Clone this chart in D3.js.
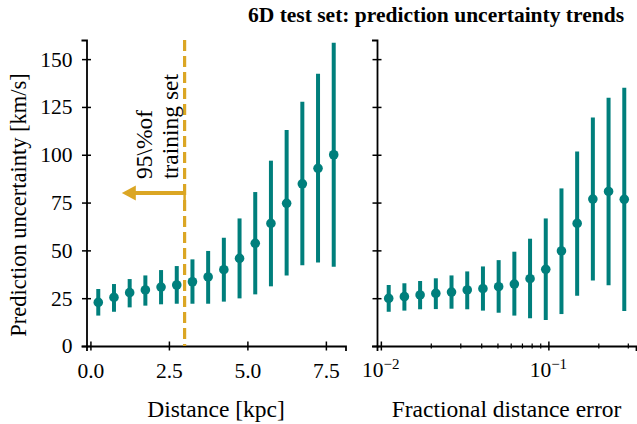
<!DOCTYPE html>
<html>
<head>
<meta charset="utf-8">
<script src="https://cdn.jsdelivr.net/npm/d3@7"></script>
<style>
  body { margin: 0; background: #fff; }
  svg text { font-family: "Liberation Serif", "Times New Roman", serif; fill: #000; }
</style>
</head>
<body>
<div id="chart"></div>
<script>
// Left panel: uncertainty vs distance (bin centers in kpc)
const distKpc = [0.25, 0.75, 1.25, 1.75, 2.25, 2.75, 3.25, 3.75, 4.25, 4.75, 5.25, 5.75, 6.25, 6.75, 7.25, 7.75];
const distMedian = [22.8, 25.4, 27.9, 29.3, 30.8, 31.9, 33.6, 36.1, 39.9, 45.8, 53.7, 64.1, 74.6, 84.8, 92.9, 100.0];
const distLow = [15.9, 17.9, 20.2, 21.1, 21.8, 22.1, 22.1, 22.1, 23.2, 24.9, 27.0, 31.2, 36.8, 42.2, 43.7, 41.5];
const distHigh = [29.8, 32.4, 35.0, 36.9, 39.7, 41.8, 45.3, 49.7, 56.6, 66.7, 80.5, 96.9, 112.9, 127.7, 142.3, 158.5];

// Right panel: uncertainty vs fractional distance error (log bins)
const fracErr = [0.01114, 0.01382, 0.01715, 0.02129, 0.02641, 0.03278, 0.04068, 0.05048, 0.06264, 0.07773, 0.09646, 0.1197, 0.1485, 0.1843, 0.2287, 0.2838];
const fracMedian = [24.9, 25.8, 26.7, 27.5, 28.2, 29.3, 30.0, 31.0, 32.4, 35.2, 40.1, 49.7, 64.1, 76.8, 80.8, 76.7];
const fracLow = [17.9, 18.5, 19.2, 19.3, 19.5, 19.2, 18.5, 17.4, 15.9, 14.5, 13.6, 16.7, 26.3, 34.3, 31.7, 18.3];
const fracHigh = [31.9, 32.8, 34.0, 35.4, 36.9, 39.0, 41.6, 44.9, 49.3, 56.1, 66.7, 82.4, 101.7, 119.5, 129.8, 135.0];

const yTicks = [0, 25, 50, 75, 100, 125, 150];
const distTicks = [0, 2.5, 5, 7.5];
const fracMajorTicks = [0.01, 0.1];
const fracMinorTicks = [0.02, 0.03, 0.04, 0.05, 0.06, 0.07, 0.08, 0.09, 0.2, 0.3];

// 95% of training set lies below this distance; arrow drawn at this height
const trainingCut = 3.0;
const arrowEnd = 1.0;
const arrowLevel = 80;

const teal = "#007f7c";
const gold = "#dba624";

const W = 637, H = 424;
const plotTop = 40, plotBottom = 346;

const svg = d3.select("#chart").append("svg")
  .attr("width", W)
  .attr("height", H);

const y = d3.scaleLinear().domain([0, 160]).range([plotBottom, plotTop]);
const xDist = d3.scaleLinear().domain([-0.125, 8.125]).range([86.5, 345.5]);
const xFrac = d3.scaleLog().domain([Math.pow(10, -2.023), Math.pow(10, -0.477)]).range([377, 636]);

// Title
svg.append("text")
  .attr("x", 436)
  .attr("y", 22)
  .attr("text-anchor", "middle")
  .style("font-size", "21.5px")
  .style("font-weight", "bold")
  .text("6D test set: prediction uncertainty trends");

// ticks that cross the spine (matplotlib "inout")
function inout(g, horizontal, len) {
  g.selectAll(".tick line")
    .attr("stroke", "#000")
    .attr("stroke-width", 1.5)
    .attr(horizontal ? "y1" : "x1", -len)
    .attr(horizontal ? "y2" : "x2", len);
}

function drawPanel(x, xs, med, lo, hi, showYLabels) {
  const p = svg.append("g");

  // y axis
  const ya = p.append("g")
    .attr("transform", "translate(" + x.range()[0] + ",0)")
    .call(d3.axisLeft(y).tickValues(yTicks).tickSize(5).tickPadding(9)
      .tickFormat(showYLabels ? d3.format("d") : ""));
  ya.select(".domain").attr("stroke-width", 1.8);
  inout(ya, false, 4.5);
  ya.selectAll("text").style("font-size", "21.5px");

  // error bars
  p.selectAll(".bar")
    .data(xs)
    .enter().append("line")
    .attr("x1", d => x(d))
    .attr("x2", d => x(d))
    .attr("y1", (d, i) => y(lo[i]))
    .attr("y2", (d, i) => y(hi[i]))
    .attr("stroke", teal)
    .attr("stroke-width", 4);

  p.selectAll(".dot")
    .data(xs)
    .enter().append("circle")
    .attr("cx", d => x(d))
    .attr("cy", (d, i) => y(med[i]))
    .attr("r", 4.8)
    .attr("fill", teal);

  return p;
}

// ---- Left panel ----
const left = drawPanel(xDist, distKpc, distMedian, distLow, distHigh, true);

const xa = left.append("g")
  .attr("transform", "translate(0," + plotBottom + ")")
  .call(d3.axisBottom(xDist).tickValues(distTicks).tickSize(5).tickPadding(12)
    .tickFormat(d3.format(".1f")));
xa.select(".domain").attr("stroke-width", 1.8);
inout(xa, true, 4.5);
xa.selectAll("text").style("font-size", "21.5px");

// dashed training-set limit
left.append("line")
  .attr("x1", xDist(trainingCut))
  .attr("x2", xDist(trainingCut))
  .attr("y1", y(160))
  .attr("y2", y(0))
  .attr("stroke", gold)
  .attr("stroke-width", 3.2)
  .attr("stroke-dasharray", "11,5");

// arrow pointing left
const ay = y(arrowLevel);
const tipX = xDist(arrowEnd);
left.append("line")
  .attr("x1", xDist(trainingCut))
  .attr("x2", tipX + 12)
  .attr("y1", ay)
  .attr("y2", ay)
  .attr("stroke", gold)
  .attr("stroke-width", 4);
left.append("line")
  .attr("x1", xDist(trainingCut))
  .attr("x2", xDist(trainingCut))
  .attr("y1", ay - 7)
  .attr("y2", ay + 7)
  .attr("stroke", gold)
  .attr("stroke-width", 2.5);
left.append("path")
  .attr("d", d3.line()([[tipX, ay], [tipX + 14, ay - 7.5], [tipX + 14, ay + 7.5]]) + "Z")
  .attr("fill", gold);

// rotated annotation
const note = left.append("text")
  .attr("transform", "translate(" + 152 + "," + 179 + ") rotate(-90)")
  .style("font-size", "23.5px");
note.append("tspan").attr("x", 0).attr("dy", 0).text("95\\%of");
note.append("tspan").attr("x", 0).attr("dy", 26).text("training set");

// axis labels
svg.append("text")
  .attr("transform", "translate(26,205) rotate(-90)")
  .attr("text-anchor", "middle")
  .style("font-size", "22.5px")
  .text("Prediction uncertainty [km/s]");

svg.append("text")
  .attr("x", (xDist.range()[0] + xDist.range()[1]) / 2)
  .attr("y", 417)
  .attr("text-anchor", "middle")
  .style("font-size", "23.5px")
  .text("Distance [kpc]");

// ---- Right panel ----
const right = drawPanel(xFrac, fracErr, fracMedian, fracLow, fracHigh, false);

const xb = right.append("g")
  .attr("transform", "translate(0," + plotBottom + ")")
  .call(d3.axisBottom(xFrac).tickValues(fracMajorTicks).tickSize(5).tickFormat(""));
xb.select(".domain").attr("stroke-width", 1.8);
inout(xb, true, 4.5);

right.append("g")
  .attr("transform", "translate(0," + plotBottom + ")")
  .selectAll("line")
  .data(fracMinorTicks)
  .enter().append("line")
  .attr("x1", d => xFrac(d))
  .attr("x2", d => xFrac(d))
  .attr("y1", -2.5)
  .attr("y2", 2.5)
  .attr("stroke", "#000")
  .attr("stroke-width", 1.2);

const powLabels = right.selectAll(".pow")
  .data(fracMajorTicks)
  .enter().append("text")
  .attr("x", d => xFrac(d))
  .attr("y", plotBottom + 31)
  .attr("text-anchor", "middle")
  .style("font-size", "21.5px");
powLabels.append("tspan").text("10");
powLabels.append("tspan")
  .attr("dy", -8)
  .style("font-size", "15px")
  .text(d => "\u2212" + Math.round(-Math.log10(d)));

svg.append("text")
  .attr("x", (xFrac.range()[0] + xFrac.range()[1]) / 2)
  .attr("y", 417)
  .attr("text-anchor", "middle")
  .style("font-size", "23.5px")
  .text("Fractional distance error");
</script>
</body>
</html>
